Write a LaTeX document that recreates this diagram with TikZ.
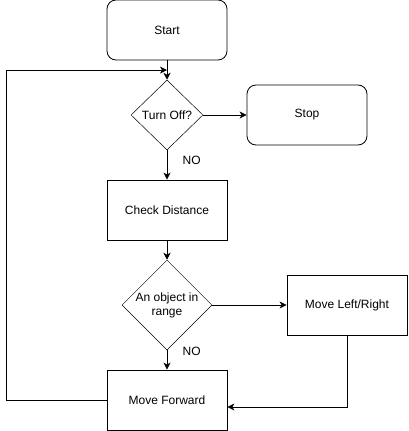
\documentclass[tikz,border=0pt]{standalone}
\usepackage{fontspec}
\setmainfont{Liberation Sans}
\usetikzlibrary{shapes.geometric,arrows.meta,calc}

\begin{document}
\begin{tikzpicture}[node distance=95pt, line width=0.8pt,
    font=\fontsize{12pt}{14pt}\selectfont,
    >={Stealth[length=7pt,width=7pt,inset=2pt]},
    terminal/.style={rectangle, rounded corners=9pt, draw, minimum width=120pt, minimum height=60pt},
    process/.style={rectangle, draw, minimum width=120pt, minimum height=60pt},
    decision/.style={diamond, draw, line width=0.5pt, inner sep=0pt, align=center}]
    \useasboundingbox (0,0) rectangle (408pt,-431pt);

    % Start and stop
    \node [terminal] (start) at (167pt,-30pt) {Start};
    \node [decision, minimum width=72pt, minimum height=70pt, below of=start, yshift=10pt] (turnoff) {Turn Off?};
    \node [terminal, right of=turnoff, xshift=45pt] (stop) {Stop};

    % Main loop
    \node [process, below of=turnoff] (check) {Check Distance};
    \node [decision, minimum width=90pt, minimum height=90pt, below of=check] (object) {An object in\\range};
    \node [process, right of=object, xshift=85pt] (moveside) {Move Left/Right};
    \node [process, below of=object] (forward) {Move Forward};

    \coordinate (join) at ($(start.south)!0.5!(turnoff.north)$);

    % Arrows
    \draw[->] (start) -- (turnoff);
    \draw[->] (turnoff) -- (stop);
    \draw[->] (turnoff) -- node[pos=0.35, right, xshift=12pt] {NO} (check);
    \draw[->] (check) -- (object);
    \draw[->] (object) -- (moveside);
    \draw[->] (object) -- node[pos=0.05, right, xshift=12pt] {NO} (forward);
    \draw[->] (moveside.south) |- ([yshift=-7pt]forward.east);
    \draw[->] (forward.west) -- ++(-100pt,0) |- (join);
\end{tikzpicture}
\end{document}
